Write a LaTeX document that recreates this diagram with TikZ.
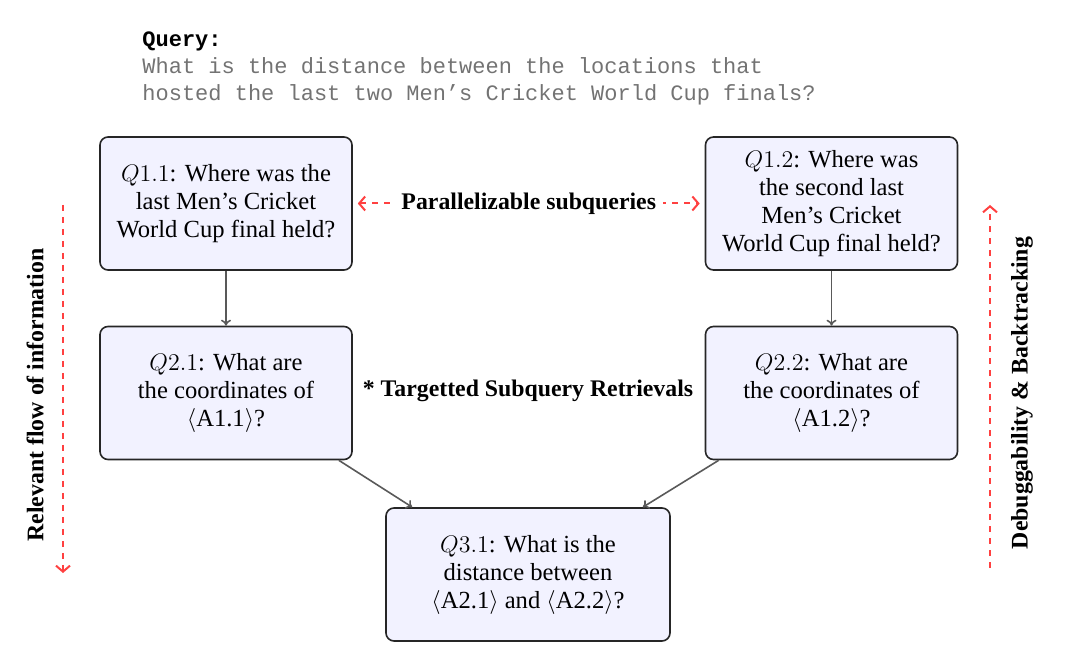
\documentclass[tikz,border=0pt]{standalone}
\usepackage{fontspec}
\setmainfont{Liberation Serif}
\setmonofont{Liberation Mono}
\usetikzlibrary{arrows.meta}

\begin{document}
\begin{tikzpicture}[x = 10pt, y = 10pt,
        qbox/.style = {draw = black!85, line width = 0.8pt, rounded corners = 4pt, fill = blue!5,
            align = center, minimum width = 126pt, minimum height = 66.5pt,
            font = \fontsize{12.3}{14}\selectfont},
        flow/.style = {draw = black!65, line width = 0.8pt, -{To[length = 3pt, width = 5pt]}},
        hint/.style = {draw = red!75, dashed, line width = 1pt},
        note/.style = {font = \fontsize{11.9}{14}\selectfont\bfseries}]
    \useasboundingbox (0,0) rectangle (54,33.4);
    % the query on top
    \node[anchor = north west, align = left, inner sep = 0pt, font = \fontsize{11}{13.5}\selectfont\ttfamily] (query) at (7.1,31.85)
        {\textbf{Query:}\\[0.2pt]
        \textcolor{black!55}{What is the distance between the locations that}\\
        \textcolor{black!55}{hosted the last two Men’s Cricket World Cup finals?}};
    % subqueries
    \node[qbox] (q11) at (11.3,23.225) {$Q1.1$: Where was the\\last Men’s Cricket\\World Cup final held?};
    \node[qbox] (q12) at (41.575,23.225) {$Q1.2$: Where was\\the second last\\Men’s Cricket\\World Cup final held?};
    \node[qbox] (q21) at (11.3,13.75) {$Q2.1$: What are\\the coordinates of\\$\langle$A1.1$\rangle$?};
    \node[qbox] (q22) at (41.575,13.75) {$Q2.2$: What are\\the coordinates of\\$\langle$A1.2$\rangle$?};
    \node[qbox, minimum width = 142pt] (q31) at (26.4,4.675) {$Q3.1$: What is the\\distance between\\$\langle$A2.1$\rangle$ and $\langle$A2.2$\rangle$?};
    \draw[flow] (q11) -- (q21);
    \draw[flow] (q12) -- (q22);
    \draw[flow] ([xshift = -7pt]q21.south east) -- ([xshift = 13.5pt]q31.north west);
    \draw[flow] ([xshift = 7pt]q22.south west) -- ([xshift = -14pt]q31.north east);
    % hints
    \draw[hint, {Straight Barb[length = 3pt, width = 7pt]}-{Straight Barb[length = 3pt, width = 7pt]}, shorten <= 2.5pt, shorten >= 2.5pt]
        (q11) -- node[note, fill = white] (par) {Parallelizable subqueries} (q12);
    \node[note] (ret) at (26.4,13.85) {* Targetted Subquery Retrievals};
    \coordinate (flowtop) at (3.15,23.15);
    \coordinate (flowend) at (3.15,4.75);
    \draw[hint, -{Straight Barb[length = 3pt, width = 7pt]}] (flowtop) -- (flowend);
    \node[note, rotate = 90] (flowtxt) at (1.75,13.65) {Relevant flow of information};
    \coordinate (backend) at (49.5,5);
    \coordinate (backtop) at (49.5,23.15);
    \draw[hint, -{Straight Barb[length = 3pt, width = 7pt]}] (backend) -- (backtop);
    \node[note, rotate = 90] (backtxt) at (51.1,13.75) {Debuggability \& Backtracking};
\end{tikzpicture}
\end{document}
